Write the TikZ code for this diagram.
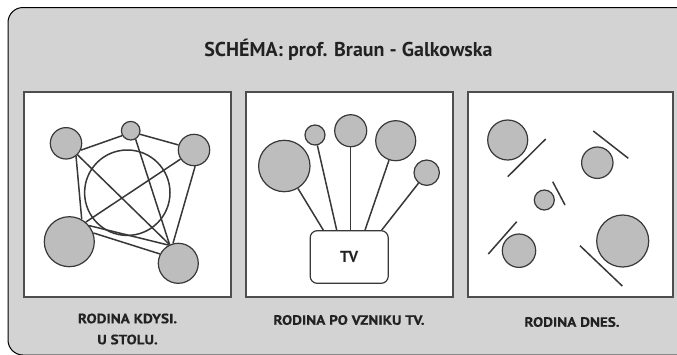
\documentclass[tikz,border=0pt]{standalone}
\usepackage{fontspec}
\setmainfont{PT Sans}
\newfontfamily\labfont[FakeStretch=1.12, FakeBold=0.5]{PT Sans}
\definecolor{bggray}{HTML}{D3D3D3}
\definecolor{framegray}{HTML}{4E4E4E}
\definecolor{circgray}{HTML}{BDBDBD}
\definecolor{edgegray}{HTML}{383838}
\definecolor{txtcol}{HTML}{222222}
\begin{document}
\begin{tikzpicture}[x=1pt,y=-1pt,
  outerbox/.style={fill=bggray, draw=black, line width=1pt, rounded corners=15pt},
  panel/.style={fill=white, draw=framegray, line width=1.8pt},
  person/.style={circle, fill=circgray, draw=edgegray, line width=1.2pt, inner sep=0pt},
  link/.style={draw=edgegray, line width=1.5pt},
  tvbox/.style={rectangle, rounded corners=7pt, draw=edgegray, line width=1.2pt, fill=white,
    minimum width=78pt, minimum height=52.6pt, font=\bfseries\fontsize{16}{18}\selectfont, text=txtcol},
  caption/.style={font=\labfont\bfseries\fontsize{13.5}{21}\selectfont, text=txtcol, align=center},
  titletext/.style={font=\bfseries\fontsize{20}{24}\selectfont, text=txtcol, anchor=base}
]
\useasboundingbox (0,0) rectangle (677,354);
\begin{scope}
  \clip (0,0) rectangle (677,354);
  \draw[outerbox] (8,7.5) rectangle (700,355);
\end{scope}

\node[titletext] (title) at (348.5,56.5) {SCHÉMA: prof. Braun - Galkowska};

% panels
\draw[panel] (24,92) rectangle (231,297);
\draw[panel] (246,92) rectangle (453,297);
\draw[panel] (468,92) rectangle (673,297);

% panel 1
\node[person, minimum size=31.4pt] (a1) at (66,143.3) {};
\node[person, minimum size=18.6pt] (a2) at (130.7,130.7) {};
\node[person, minimum size=31.4pt] (a3) at (194,150) {};
\node[person, minimum size=50pt] (a4) at (69.3,241.7) {};
\node[person, minimum size=40pt] (a5) at (178.3,263.3) {};
\draw[link] (127.3,192.7) circle[radius=42.7];
\draw[link] (a1.-25) -- (a2.210);
\draw[link] (a2.-21) -- (a3.162);
\draw[link] (a1.-45) -- (a5.115);
\draw[link] (a2.-60) -- (a5.115);
\draw[link] (a3.-86) -- (a5.105);
\draw[link] (a1.-52) -- (a4.61);
\draw[link] (a3.214) -- (a4.50);
\draw[link] (a4.39) -- (a5.118);
\draw[link] (a4.20) -- (a5.153);

% panel 2
\node[person, minimum size=51.4pt] (b1) at (284.3,166) {};
\node[person, minimum size=20pt] (b2) at (315,135) {};
\node[person, minimum size=32pt] (b3) at (350.7,130.7) {};
\node[person, minimum size=40pt] (b4) at (395.7,140.7) {};
\node[person, minimum size=25.4pt] (b5) at (426.7,172.7) {};
\node[tvbox] (tv) at (349.2,257) {TV};
\coordinate (t1) at (323.3,0 |- tv.north);
\coordinate (t2) at (336.7,0 |- tv.north);
\coordinate (t3) at (350.7,0 |- tv.north);
\coordinate (t4) at (365,0 |- tv.north);
\coordinate (t5) at (381.7,0 |- tv.north);
\draw[link] (b1) -- (t1);
\draw[link] (b2) -- (t2);
\draw[link] (b3) -- (t3);
\draw[link] (b4) -- (t4);
\draw[link] (b5) -- (t5);

% panel 3
\node[person, minimum size=40pt] (c1) at (507.7,140) {};
\node[person, minimum size=31.4pt] (c2) at (597.3,162.7) {};
\node[person, minimum size=20pt] (c3) at (544.3,200) {};
\node[person, minimum size=33.4pt] (c4) at (519,250.7) {};
\node[person, minimum size=52pt] (c5) at (622.7,241) {};
\draw[link] (507.7,176.7) -- (545.7,139);
\draw[link] (593.3,131) -- (628.3,158.3);
\draw[link] (552.7,181.7) -- (565,205);
\draw[link] (488.3,254) -- (516.7,221.7);
\draw[link] (580,245.7) -- (622.3,286);

% captions
\node[caption] (l1) at (127.5,329) {RODINA KDYSI.\\U STOLU.};
\node[caption] (l2) at (349,320) {RODINA PO VZNIKU TV.};
\node[caption] (l3) at (572,322) {RODINA DNES.};
\end{tikzpicture}
\end{document}
